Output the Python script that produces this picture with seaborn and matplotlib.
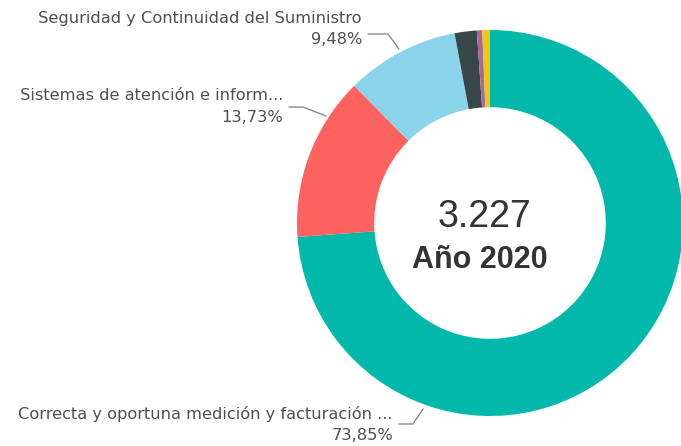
import matplotlib
matplotlib.use("Agg")
import matplotlib.pyplot as plt
import seaborn as sns

# Data (Power BI style)
categories = [
    "Correcta y oportuna medición y facturación ...",
    "Sistemas de atención e inform...",
    "Seguridad y Continuidad del Suministro",
    "Otros 1",
    "Otros 2",
    "Otros 3",
]
shares = [73.85, 13.73, 9.48, 1.85, 0.45, 0.64]
share_labels = ["73,85%", "13,73%", "9,48%"]
total_label = "3.227"
year_label = "Año 2020"
colors = ["#01B8AA", "#FD625E", "#8AD4EB", "#374649", "#A66999", "#F2C80F"]

sns.set_theme(style="white")
plt.rcParams["font.family"] = ["DejaVu Sans"]

W, H = 681, 446
fig = plt.figure(figsize=(W / 100, H / 100), dpi=100)
ax = fig.add_axes([0, 0, 1, 1])
ax.set_xlim(0, W)
ax.set_ylim(0, H)
ax.set_aspect("equal")
ax.axis("off")

cx, cy, r = 490, H - 223, 193
ax.pie(shares, colors=colors, startangle=90, counterclock=False,
       center=(cx, cy), radius=r,
       wedgeprops=dict(width=r * 0.4, linewidth=0))
ax.set_xlim(0, W)
ax.set_ylim(0, H)

txt = "#505050"
line = "#8a8a8a"

def label(name, pct, x, y, pts):
    ax.text(x, H - y, name, ha="right", va="center", fontsize=11.7, color=txt)
    ax.text(x, H - y - 21, pct, ha="right", va="center", fontsize=11.7, color=txt)
    xs = [p[0] for p in pts]
    ys = [H - p[1] for p in pts]
    ax.plot(xs, ys, color=line, lw=1)

label(categories[2], share_labels[2], 362, 18, [(368, 34), (388, 34), (399, 49)])
label(categories[1], share_labels[1], 283, 96, [(289, 107), (303, 107), (326, 116)])
label(categories[0], share_labels[0], 393, 414, [(399, 424), (413, 424), (423, 409)])

ax.text(484, H - 227, total_label, ha="center", va="baseline", fontsize=27,
        color="#333333", family="Liberation Sans")
ax.text(480, H - 268, year_label, ha="center", va="baseline", fontsize=22,
        fontweight="bold", color="#333333", family="Liberation Sans")

fig.savefig("out.png", dpi=100)
